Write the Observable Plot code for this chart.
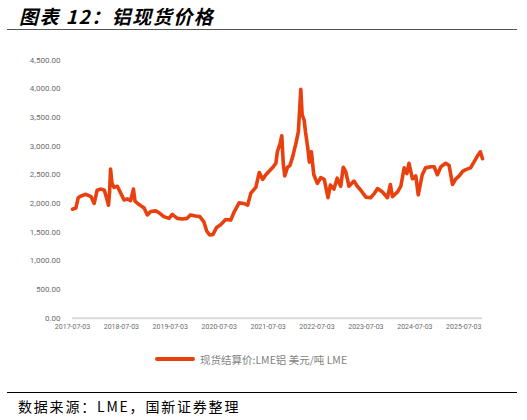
<!DOCTYPE html>
<html><head><meta charset="utf-8">
<script src="https://cdn.jsdelivr.net/npm/d3@7"></script>
<script src="https://cdn.jsdelivr.net/npm/@observablehq/plot@0.6"></script>
<style>
html,body{margin:0;padding:0;background:#fff;width:527px;height:420px;overflow:hidden;position:relative;font-family:"Noto Sans CJK SC","Noto Sans",sans-serif;}
#title{position:absolute;left:19px;top:3px;font-size:19px;line-height:26px;font-weight:bold;font-style:italic;color:#000;letter-spacing:1.5px;}
#rule1{position:absolute;left:7px;top:29px;width:510px;height:0;border-top:1.5px solid #555;}
#chart{position:absolute;left:0;top:40px;}
#legend{position:absolute;left:155px;top:351px;height:16px;font-size:10.5px;color:#7f7f7f;display:flex;align-items:center;white-space:nowrap;}
#legend span.sw{display:inline-block;width:40px;height:3.5px;background:#E8400E;margin-right:5px;border-radius:2px;}
#rule2{position:absolute;left:7px;top:392px;width:510px;height:0;border-top:1px solid #000;}
#source{position:absolute;left:18px;top:396px;font-size:14px;line-height:20px;color:#000;letter-spacing:1.8px;}
</style></head>
<body>
<div id="title">图表 12：铝现货价格</div>
<div id="rule1"></div>
<div id="chart"></div>
<div id="legend"><span class="sw"></span>现货结算价:LME铝 美元/吨 LME</div>
<div id="rule2"></div>
<div id="source">数据来源：LME，国新证券整理</div>
<script>
const dates = ["2017-07-03","2017-07-28","2017-08-15","2017-09-04","2017-10-12","2017-11-18","2017-12-12","2018-01-03","2018-02-01","2018-02-26","2018-03-16","2018-03-29","2018-04-06","2018-04-13","2018-04-24","2018-05-09","2018-06-03","2018-06-28","2018-07-23","2018-08-16","2018-09-10","2018-10-01","2018-10-13","2018-11-12","2018-12-20","2019-01-13","2019-02-07","2019-03-15","2019-04-09","2019-05-16","2019-06-24","2019-07-18","2019-08-25","2019-10-01","2019-11-06","2019-12-01","2020-01-08","2020-02-09","2020-03-10","2020-03-31","2020-04-22","2020-05-17","2020-06-13","2020-07-13","2020-08-20","2020-09-27","2020-10-22","2020-11-28","2021-01-01","2021-01-31","2021-02-24","2021-04-02","2021-04-28","2021-05-23","2021-06-16","2021-07-10","2021-08-04","2021-08-30","2021-09-10","2021-10-01","2021-10-13","2021-10-24","2021-11-04","2021-11-25","2021-12-13","2022-01-03","2022-01-27","2022-02-14","2022-03-04","2022-03-14","2022-03-29","2022-04-08","2022-04-26","2022-05-07","2022-05-22","2022-06-09","2022-07-06","2022-07-31","2022-08-26","2022-09-23","2022-10-11","2022-11-06","2022-12-01","2022-12-27","2023-01-15","2023-02-02","2023-02-27","2023-04-05","2023-04-30","2023-05-26","2023-07-03","2023-08-08","2023-09-03","2023-09-28","2023-11-04","2023-12-11","2024-01-02","2024-01-17","2024-02-25","2024-03-20","2024-04-14","2024-05-04","2024-05-20","2024-06-15","2024-07-10","2024-07-28","2024-08-27","2024-09-21","2024-10-29","2024-11-24","2024-12-18","2025-01-13","2025-02-18","2025-03-16","2025-04-10","2025-05-05","2025-05-30","2025-06-25","2025-07-18","2025-08-23","2025-09-19","2025-10-14","2025-11-04","2025-11-20"];
const prices = [1900,1920,2100,2130,2160,2120,2000,2230,2250,2230,2080,1970,2200,2600,2350,2280,2300,2180,2060,2080,2050,2250,2040,1980,1920,1800,1860,1870,1840,1770,1740,1810,1740,1730,1740,1800,1780,1770,1680,1520,1450,1460,1580,1630,1720,1710,1850,2010,2000,1970,2180,2280,2540,2420,2500,2560,2620,2700,2900,3050,3180,2700,2480,2630,2660,2820,3050,3250,3990,3550,3450,3250,2950,2720,2900,2500,2350,2450,2420,2100,2320,2250,2440,2300,2630,2560,2300,2390,2300,2230,2110,2100,2170,2260,2200,2100,2330,2120,2200,2300,2620,2520,2700,2430,2480,2150,2500,2620,2640,2640,2500,2640,2700,2660,2330,2430,2480,2560,2590,2620,2730,2830,2900,2780];
const xTickLabels = ["2017-07-03","2018-07-03","2019-07-03","2020-07-03","2021-07-03","2022-07-03","2023-07-03","2024-07-03","2025-07-03"];
const yTicks = [0,500,1000,1500,2000,2500,3000,3500,4000,4500];
const seriesName = "现货结算价:LME铝 美元/吨 LME";

const parse = d3.utcParse("%Y-%m-%d");
const data = dates.map((d,i)=>({date: parse(d), price: prices[i]}));
const fmtY = d3.format(",.2f");

const chart = Plot.plot({
  width: 527,
  height: 295,
  marginLeft: 72,
  marginRight: 45,
  marginTop: 19.5,
  marginBottom: 17.3,
  style: {fontFamily: "Roboto, 'Noto Sans', sans-serif", background: "#fff", overflow: "visible"},
  x: {type: "utc", domain: [parse("2017-07-03"), parse("2025-11-20")]},
  y: {domain: [0, 4500]},
  marks: [
    Plot.axisY({ticks: yTicks, tickFormat: fmtY, tickSize: 0, tickPadding: 12, label: null, fontSize: 8, color: "#6b6b6b"}),
    Plot.axisX({ticks: xTickLabels.map(parse), tickFormat: d3.utcFormat("%Y-%m-%d"), tickSize: 0, tickPadding: 6, label: null, fontSize: 7, color: "#6b6b6b"}),
    Plot.ruleY([0], {stroke: "#d9d9d9", strokeWidth: 2}),
    Plot.lineY(data, {x: "date", y: "price", stroke: "#E8400E", strokeWidth: 3.6, strokeLinejoin: "round", curve: "linear"})
  ]
});
document.getElementById("chart").appendChild(chart);
</script>
</body></html>
